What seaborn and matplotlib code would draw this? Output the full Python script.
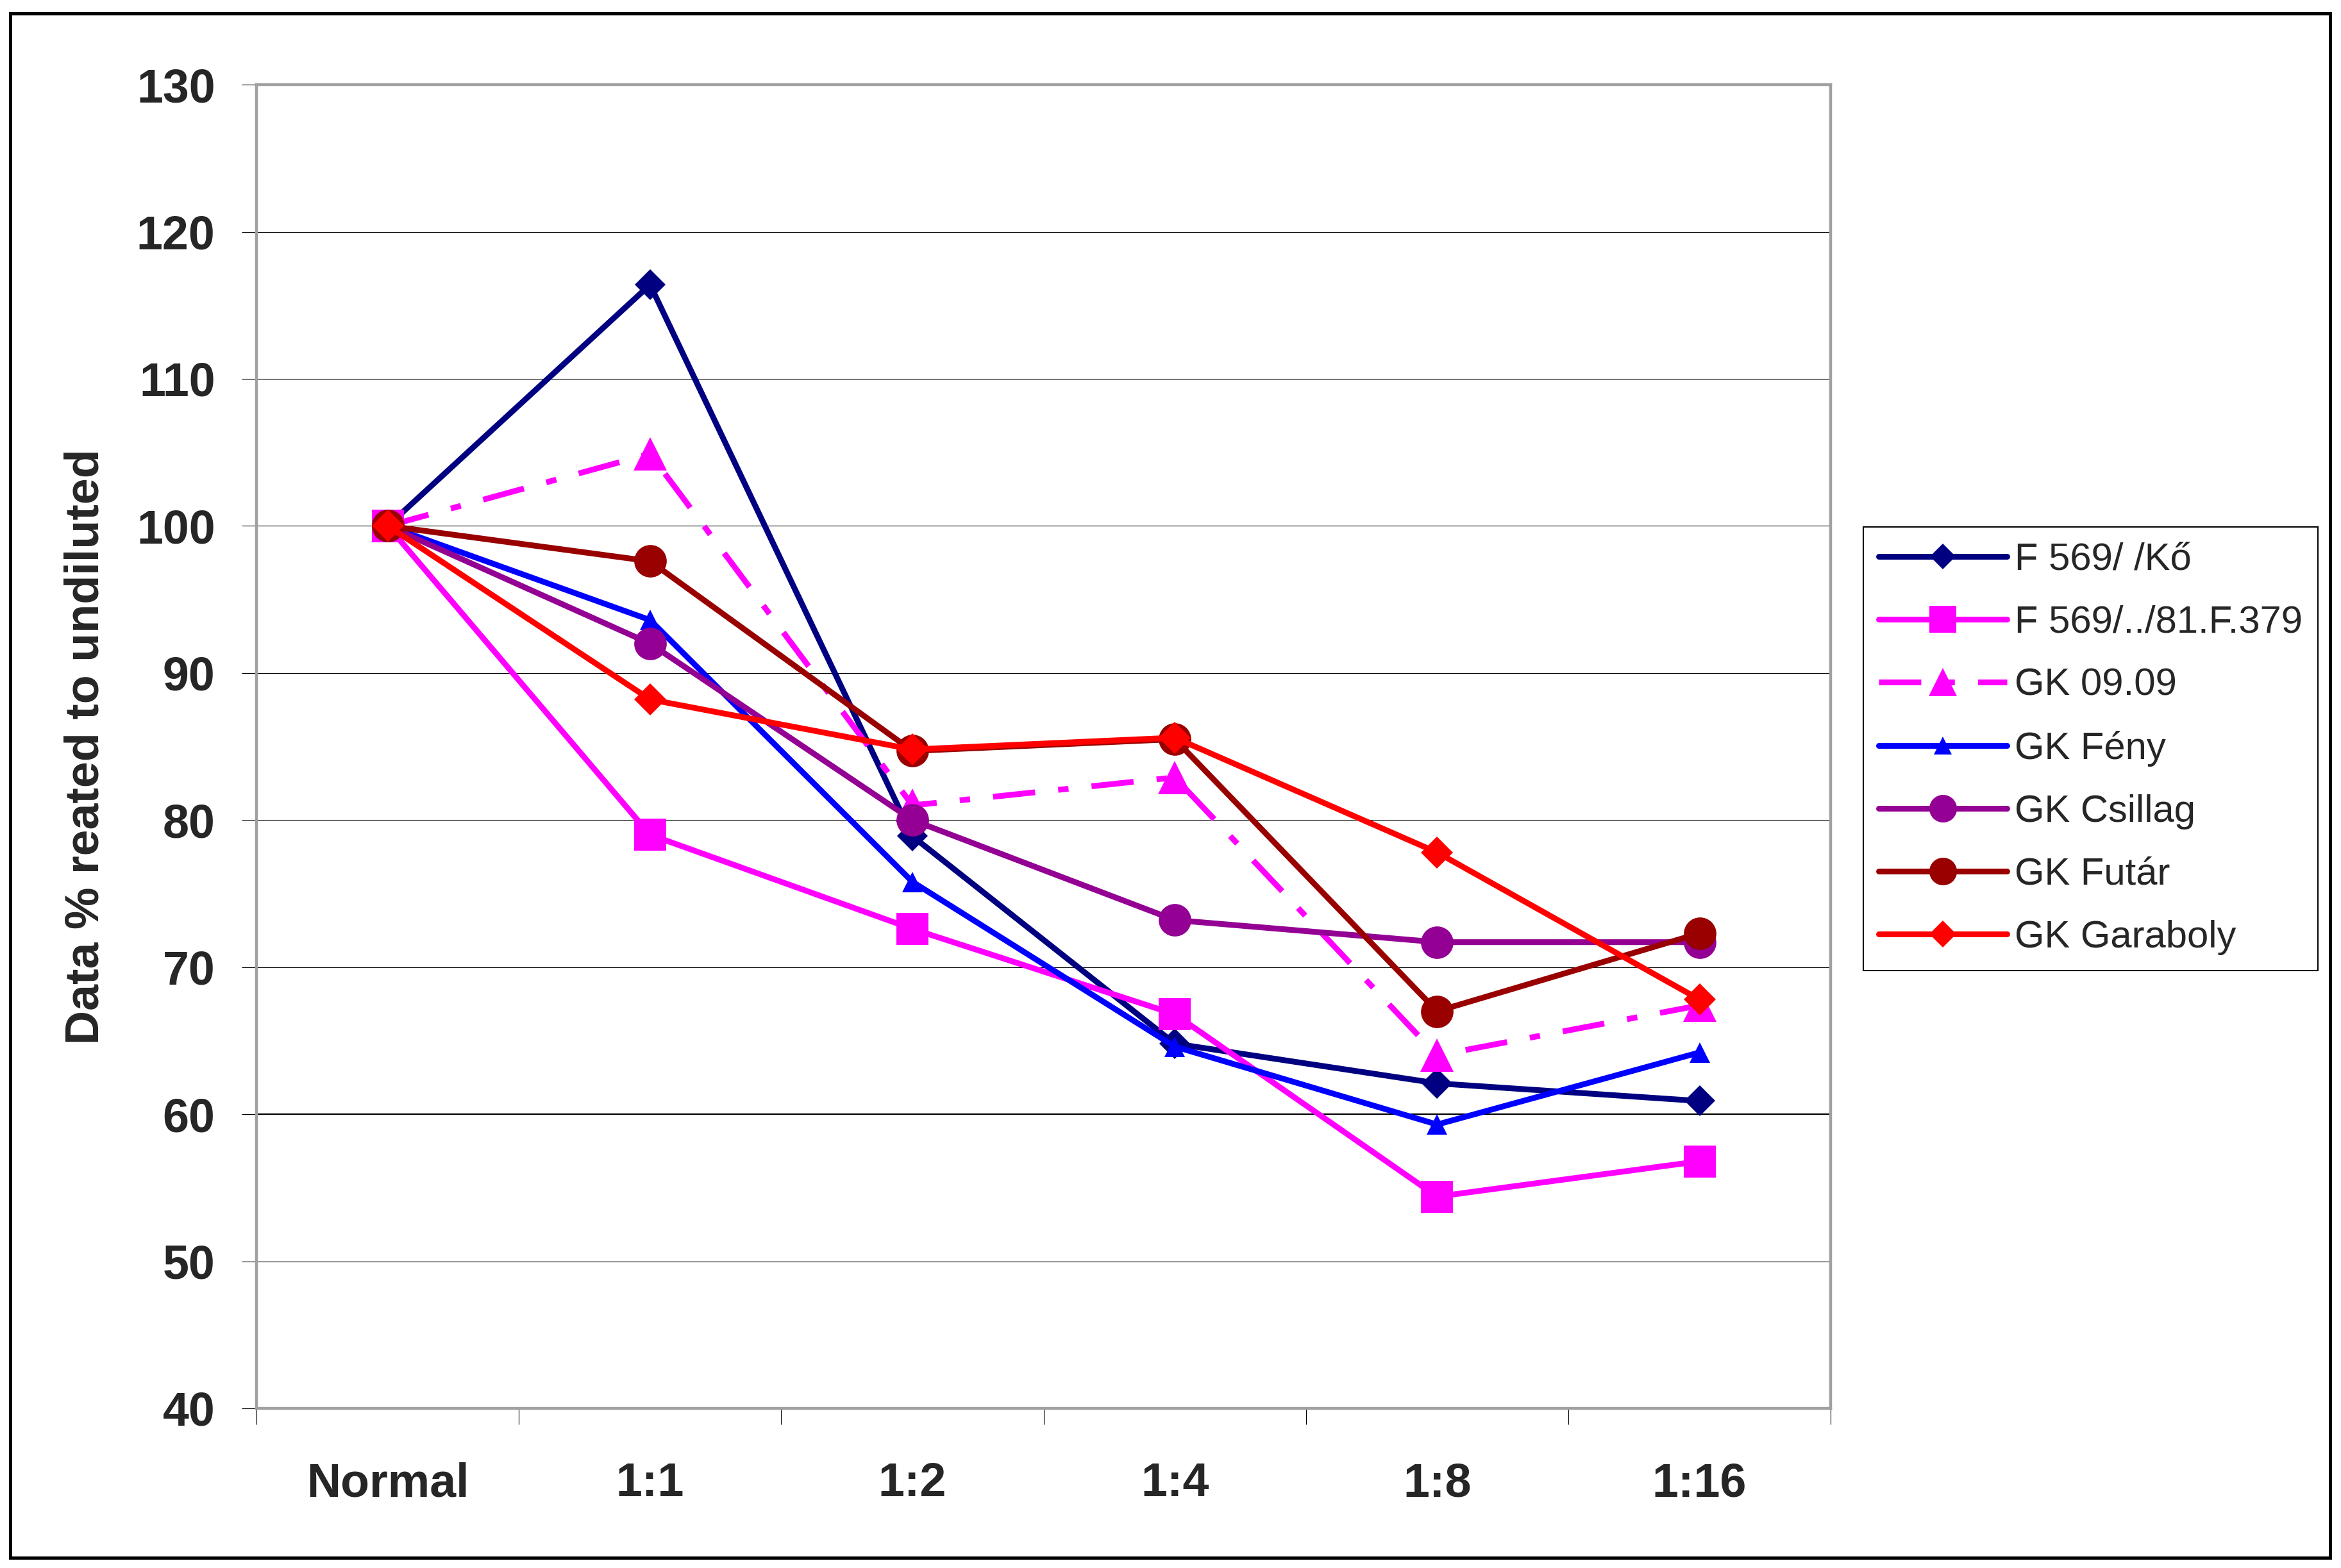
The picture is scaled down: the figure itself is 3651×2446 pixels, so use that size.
import matplotlib
matplotlib.use("Agg")
import matplotlib.pyplot as plt
import seaborn as sns
from matplotlib.patches import Rectangle

# ─── Data ─────────────────────────────────────────────────────────────────────
dilutions = ["Normal", "1:1", "1:2", "1:4", "1:8", "1:16"]
series_names = ["F 569/ /Kő", "F 569/../81.F.379", "GK 09.09", "GK Fény",
                "GK Csillag", "GK Futár", "GK Garaboly"]

f569_ko = [100, 116.4, 78.9, 64.8, 62.1, 60.9]
f569_379 = [100, 79.0, 72.6, 66.8, 54.4, 56.8]
gk_0909 = [100, 104.9, 81.0, 82.9, 64.0, 67.4]
gk_feny = [100, 93.6, 75.8, 64.6, 59.3, 64.2]
gk_csillag = [100, 92.0, 80.0, 73.2, 71.7, 71.7]
gk_futar = [100, 97.6, 84.7, 85.5, 67.0, 72.3]
gk_garaboly = [100, 88.2, 84.8, 85.6, 77.8, 67.8]

values = [f569_ko, f569_379, gk_0909, gk_feny, gk_csillag, gk_futar, gk_garaboly]

# ─── Styles ───────────────────────────────────────────────────────────────────
colors = ["#000080", "#FF00FF", "#FF00FF", "#0000FF", "#930093", "#990000", "#FF0000"]
markers = ["D", "s", "^", "^", "o", "o", "D"]
msizes = [24.5, 36, 38, 23, 36.5, 36.5, 25]
dash_dot = (0, (7.3, 4.0, 1.8, 4.0))
lstyles = ["-", "-", dash_dot, "-", "-", "-", "-"]

sns.set_theme(style="white")
plt.rcParams["font.family"] = ["Liberation Sans", "DejaVu Sans"]

fig = plt.figure(figsize=(36.51, 24.46), dpi=100)
ax = fig.add_axes([0.1096, 0.1018, 0.6724, 0.8442])

x_pos = list(range(len(dilutions)))
for name, vals, c, m, ms, ls in zip(series_names, values, colors, markers, msizes, lstyles):
    sns.lineplot(x=x_pos, y=vals, ax=ax, color=c, marker=m, markersize=ms,
                 markeredgecolor=c, markeredgewidth=0, linewidth=6.5,
                 linestyle=ls, label=name, sort=False)

# axes
ax.set_xlim(-0.5, len(dilutions) - 0.5)
ax.set_ylim(40, 130)
ax.set_yticks(range(40, 131, 10))
ax.set_xticks([i - 0.5 for i in range(len(dilutions) + 1)])
ax.set_xticklabels([])
ax.set_xticks(x_pos, minor=True)
ax.set_xticklabels(dilutions, minor=True, fontsize=53, fontweight="bold")
for lbl in ax.get_yticklabels():
    lbl.set_fontsize(53)
    lbl.set_fontweight("bold")

ax.tick_params(axis="x", which="major", length=18, width=0.8, color="black",
               direction="out", bottom=True)
ax.tick_params(axis="x", which="minor", length=0, pad=60, bottom=True)
ax.tick_params(axis="y", which="major", length=16.5, width=0.8, color="black",
               direction="out", left=True, pad=30)

ax.yaxis.grid(True, color="black", linewidth=0.8)
ax.xaxis.grid(False)
ax.set_axisbelow(True)
for gl, t in zip(ax.get_ygridlines(), ax.get_yticks()):
    if t == 60:
        gl.set_linewidth(1.6)

for sp in ax.spines.values():
    sp.set_color("#a0a0a0")
    sp.set_linewidth(3.2)

ax.set_xlabel("")
ax.set_ylabel("")
fig.text(0.0367, 0.524, "Data % reated to undiluted", rotation=90,
         ha="center", va="center", fontsize=53, fontweight="bold")

# legend
handles, labels = ax.get_legend_handles_labels()
leg = ax.legend(handles, labels, loc="upper left", bbox_to_anchor=(0.796, 0.664),
                bbox_transform=fig.transFigure, fontsize=43, frameon=True,
                fancybox=False, edgecolor="black", framealpha=1,
                borderpad=0.4, borderaxespad=0, handlelength=3.35,
                handletextpad=0.2, labelspacing=0.72, markerscale=0.85)
leg.get_frame().set_linewidth(1.5)

# outer chart border
fig.patches.append(Rectangle((0.00425, 0.00634), 0.99105, 0.98526,
                             transform=fig.transFigure, fill=False,
                             edgecolor="black", linewidth=3.6))

plt.savefig("out.png", dpi=100)
plt.close()
